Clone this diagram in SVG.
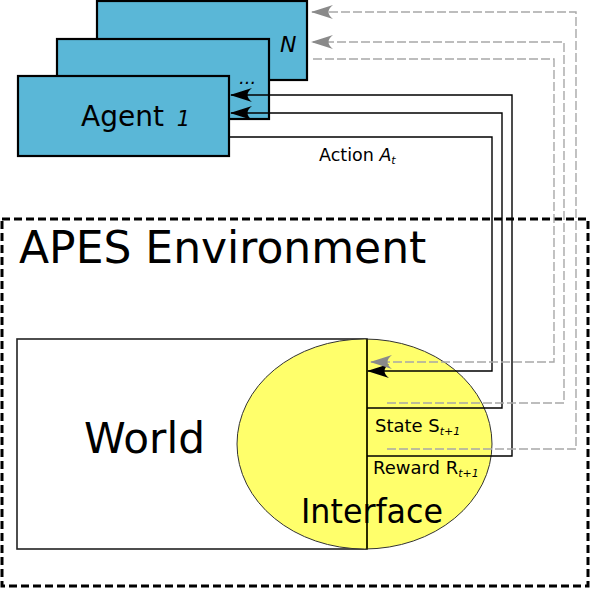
<svg xmlns="http://www.w3.org/2000/svg" width="590" height="590" viewBox="0 0 590 590">
<style>
  .agent { fill: #5ab7d7; stroke: #000; stroke-width: 2.2; }
  .txt { font-family: "DejaVu Sans", "Bitstream Vera Sans", sans-serif; fill: #000; }
  .it { font-style: italic; }
  .solid { fill: none; stroke: #000; stroke-width: 1.4; }
  .dash { fill: none; stroke: #a8a8a8; stroke-width: 1.4; stroke-dasharray: 9 3; }
  .env { fill: none; stroke: #000; stroke-width: 3; stroke-dasharray: 8 4; }
  marker { overflow: visible; }
</style>
<defs>
  <marker id="arrB" markerUnits="userSpaceOnUse" markerWidth="1" markerHeight="1" refX="0" refY="0" orient="auto" overflow="visible">
    <path d="M1,0 L-21,-7 Q-12,0 -21,7 Z" fill="#000"/>
  </marker>
  <marker id="arrG" markerUnits="userSpaceOnUse" markerWidth="1" markerHeight="1" refX="0" refY="0" orient="auto" overflow="visible">
    <path d="M1,0 L-21,-7 Q-12,0 -21,7 Z" fill="#8a8a8a"/>
  </marker>
</defs>

<rect x="0" y="0" width="590" height="590" fill="#fff"/>

<g id="environment">
  <rect class="env" x="2" y="219" width="586" height="367"/>
  <text class="txt" x="19" y="263" font-size="44">APES Environment</text>
</g>

<g id="world">
  <rect x="17" y="339" width="350" height="210" fill="#fff" stroke="#222" stroke-width="1.6"/>
  <text class="txt" x="84" y="453" font-size="43" textLength="121" lengthAdjust="spacingAndGlyphs">World</text>
</g>

<g id="interface">
  <ellipse cx="364.5" cy="444" rx="127.5" ry="105" fill="#ffff6b" stroke="#333" stroke-width="1"/>
  <line x1="367" y1="339" x2="367" y2="549" stroke="#2a2a00" stroke-width="2"/>
  <text class="txt" x="301" y="523" font-size="34" textLength="142" lengthAdjust="spacingAndGlyphs">Interface</text>
  <text class="txt" x="375" y="432" font-size="18">State S<tspan class="it" font-size="11" dy="3">t+1</tspan></text>
  <text class="txt" x="373" y="474" font-size="18">Reward R<tspan class="it" font-size="11" dy="3">t+1</tspan></text>
</g>

<g id="agentN">
  <rect class="agent" x="97" y="1" width="210" height="79"/>
  <text class="txt it" x="280" y="52" font-size="22">N</text>
</g>

<g id="agentMid">
  <rect class="agent" x="57" y="39" width="212" height="80"/>
  <text class="txt it" x="239" y="84" font-size="18">...</text>
</g>

<g id="agent1">
  <rect class="agent" x="18" y="76" width="211" height="80"/>
  <text class="txt" x="81" y="126" font-size="28">Agent <tspan class="it" font-size="21" dx="4">1</tspan></text>
</g>

<g id="connectors">
  <polyline class="solid" points="229,137 492,137 492,371 368,371" marker-end="url(#arrB)"/>
  <polyline class="solid" points="367,408 502,408 502,113 231,113" marker-end="url(#arrB)"/>
  <polyline class="solid" points="367,456 512,456 512,95 231,95" marker-end="url(#arrB)"/>
  <polyline class="dash" points="313,59 554,59 554,362 371,362" marker-end="url(#arrG)"/>
  <polyline class="dash" points="387,403 564,403 564,42 312,42" marker-end="url(#arrG)"/>
  <polyline class="dash" points="387,449 576,449 576,12 312,12" marker-end="url(#arrG)"/>
  <text class="txt" x="319" y="161" font-size="17.5">Action <tspan class="it">A</tspan><tspan class="it" font-size="11" dy="3">t</tspan></text>
</g>
</svg>
